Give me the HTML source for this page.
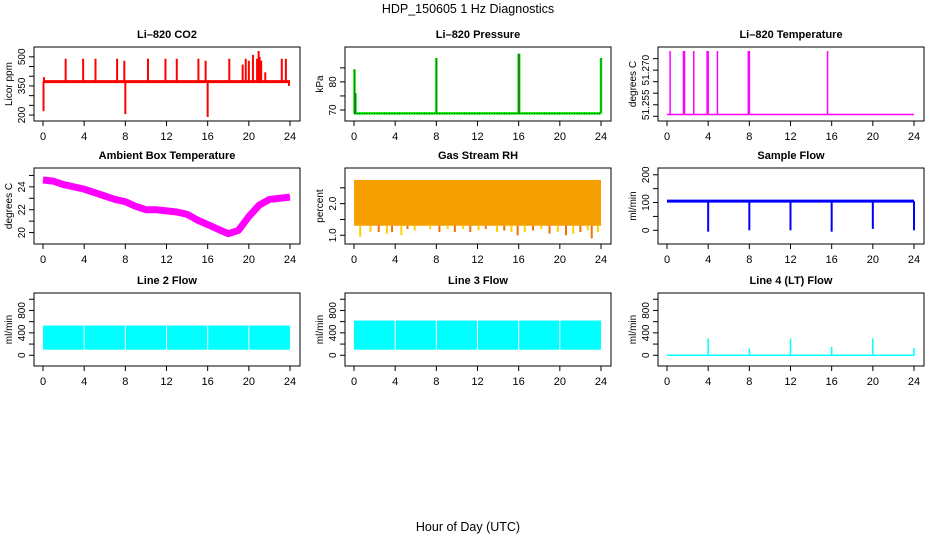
<!DOCTYPE html>
<html><head><meta charset="utf-8"><style>
body{margin:0;background:#fff;}
svg{display:block;font-family:"Liberation Sans",sans-serif;}
</style></head><body>
<svg id="root" width="936" height="540" viewBox="0 0 936 540">
<text x="468" y="13" text-anchor="middle" font-size="12.5">HDP_150605  1 Hz Diagnostics</text>
<text x="468" y="531" text-anchor="middle" font-size="12.5">Hour of Day (UTC)</text>
</svg>
<script>
// ---- data ----
const hourTicks = [0,4,8,12,16,20,24];
const co2Base = 372;
const co2SpikeHours = [0.05,0.1,2.2,3.9,5.1,7.2,7.9,8.0,10.2,11.9,13.0,15.1,15.8,16.0,18.1,19.4,19.7,20.0,20.4,20.8,20.95,21.05,21.2,21.6,23.2,23.6,23.9];
const co2SpikeValues = [220,395,490,490,490,490,480,205,490,490,490,490,480,190,490,460,490,480,510,490,530,500,480,420,490,490,350];
const presBase = 68.8;
const presSpikeHours = [0.05,0.15,8.0,16.0,16.05,24.0];
const presSpikeValues = [84.5,76,88.5,90,90,88.5];
const tempBase = 51.2508;
const tempSpikeHours = [0.3,1.6,1.7,2.6,3.9,4.0,4.9,7.9,8.0,15.6];
const ambHours = [0,1,2,3,4,5,6,7,8,9,10,11,12,13,14,15,16,17,18,19,20,21,22,23,24];
const ambTemp = [24.6,24.5,24.2,24.0,23.8,23.5,23.2,22.9,22.7,22.3,22.0,22.0,21.9,21.8,21.6,21.1,20.7,20.3,19.9,20.2,21.4,22.4,22.9,23.0,23.1];
const rhHigh = 2.75, rhLow = 1.3;
const rhDipHours = [0.6,1.0,1.6,2.4,3.2,3.7,4.6,5.2,5.9,6.6,7.4,8.3,9.1,9.8,10.6,11.3,12.1,12.8,13.9,14.6,15.3,15.9,16.6,17.4,18.2,19.0,19.8,20.6,21.3,22.0,22.7,23.1,23.7];
const rhDipValues = [0.95,1.3,1.1,1.1,1.05,1.1,1.0,1.2,1.15,1.3,1.2,1.1,1.2,1.1,1.2,1.1,1.15,1.2,1.1,1.15,1.1,1.0,1.1,1.15,1.2,1.05,1.1,1.0,1.05,1.1,1.15,0.9,1.1];
const flowBase = 105;
const flowDropHours = [4,8,12,16,20,24];
const flowDropValues = [-5,0,0,-5,5,0];
const line2Low = 100, line2High = 530;
const line3Low = 100, line3High = 620;
const line4Base = 0;
const line4SpikeHours = [4,8,12,16,20,24];
const line4SpikeValues = [300,120,300,150,300,130];

// ---- layout ----
const NS = "http://www.w3.org/2000/svg";
const root = document.getElementById('root');
function mk(tag, attrs, parent){
  const e = document.createElementNS(NS, tag);
  for (const k in attrs) e.setAttribute(k, attrs[k]);
  (parent||root).appendChild(e); return e;
}
function panel(name, title, ylab, bx, by, bh, ymin, ymax, yticks, ylabels){
  const g = mk('g', {});
  
  
  const bw = 266;
  const x = h => bx + 9 + h * (247/24);
  const y = v => by + bh - 4 - (v - ymin) / (ymax - ymin) * (bh - 8);
  const t = mk('text', {x: bx+bw/2, y: by-9, 'text-anchor':'middle', 'font-size':'11', 'font-weight':'bold'}, g);
  t.textContent = title;
  
  
  const plot = mk('g', {}, g);
  
  
  const box = mk('rect', {x:bx, y:by, width:bw, height:bh, fill:'none', stroke:'#000', 'stroke-width':1}, g);
  
  
  hourTicks.forEach(h => {
    mk('line', {x1:x(h), x2:x(h), y1:by+bh, y2:by+bh+5, stroke:'#000'}, g);
    const l = mk('text', {x:x(h), y:by+bh+19, 'text-anchor':'middle', 'font-size':'11'}, g);
    l.textContent = h;
    
    
  });
  yticks.forEach((v,i) => {
    const yy = y(v);
    mk('line', {x1:bx-5, x2:bx, y1:yy, y2:yy, stroke:'#000'}, g);
    if (ylabels[i]) {
      const l = mk('text', {x:bx-9, y:yy, 'text-anchor':'middle', 'font-size':'10', transform:`rotate(-90 ${bx-9} ${yy})`}, g);
      l.textContent = ylabels[i];
      
      
    }
  });
  const yl = mk('text', {x:bx-22, y:by+bh/2, 'text-anchor':'middle', 'font-size':'10', transform:`rotate(-90 ${bx-22} ${by+bh/2})`}, g);
  yl.textContent = ylab;
  
  
  return {x, y, plot};
}
function vline(p, h, v1, v2, color, w){
  const l = mk('line', {x1:p.x(h), x2:p.x(h), y1:p.y(v1), y2:p.y(v2), stroke:color, 'stroke-width':w||1.3}, p.plot);
  
  
}
function hline(p, v, color, w, dash){
  const l = mk('line', {x1:p.x(0), x2:p.x(24), y1:p.y(v), y2:p.y(v), stroke:color, 'stroke-width':w||1.5}, p.plot);
  if (dash) l.setAttribute('stroke-dasharray', dash);
  
  
}
const C = [34,345,658], R = [[47,74],[168,76],[293,73]];

// CO2
let p = panel('co2-panel','Li\u2013820 CO2','Licor ppm',C[0],R[0][0],R[0][1],190,530,[200,250,300,350,400,450,500],['200','','','350','','','500']);
hline(p, co2Base, '#f00', 3);
co2SpikeHours.forEach((h,i)=>vline(p,h,co2Base,co2SpikeValues[i],'#f00',2));

// Pressure
p = panel('pressure-panel','Li\u2013820 Pressure','kPa',C[1],R[0][0],R[0][1],67.5,91,[70,75,80,85],['70','','80','']);
hline(p, presBase, '#0e0', 2.5);
presSpikeHours.forEach((h,i)=>vline(p,h,presBase,presSpikeValues[i],'#0e0',2.5));
hline(p, presBase, '#000', 0.7, '1,1.5');
presSpikeHours.forEach((h,i)=>vline(p,h,presBase,presSpikeValues[i],'#333',0.6));

// Li temperature
p = panel('licor-temperature-panel','Li\u2013820 Temperature','degrees C',C[2],R[0][0],R[0][1],51.2497,51.2783,[51.25,51.255,51.26,51.265,51.27,51.275],['','51.255','','','51.270','']);
hline(p, tempBase, '#f0f', 1.5);
tempSpikeHours.forEach(h=>vline(p,h,tempBase,51.2783,'#f0f',1.5));

// Ambient
p = panel('ambient-temperature-panel','Ambient Box Temperature','degrees C',C[0],R[1][0],R[1][1],19.35,25.3,[20,21,22,23,24,25],['20','','22','','24','']);
{
  const pl = mk('polyline', {points: ambHours.map((h,i)=>p.x(h)+','+p.y(ambTemp[i])).join(' '), fill:'none', stroke:'#f0f', 'stroke-width':7, 'stroke-linejoin':'round'}, p.plot);
  
  
}

// RH
p = panel('gas-stream-rh-panel','Gas Stream RH','percent',C[1],R[1][0],R[1][1],0.85,3.0,[1.0,1.5,2.0,2.5],['1.0','','2.0','']);
{
  const r = mk('rect', {x:p.x(0), y:p.y(rhHigh), width:p.x(24)-p.x(0), height:p.y(rhLow)-p.y(rhHigh), fill:'#f5a000'}, p.plot);
  
  
  rhDipHours.forEach((h,i)=>vline(p,h,rhLow,rhDipValues[i],i%2?'#f07000':'#ffd000',2));
}

// Sample flow
p = panel('sample-flow-panel','Sample Flow','ml/min',C[2],R[1][0],R[1][1],-35,210,[0,50,100,150,200],['0','','100','','200']);
hline(p, flowBase, '#00f', 3);
flowDropHours.forEach((h,i)=>vline(p,h,flowBase,flowDropValues[i],'#00f',2));

// Line 2
p = panel('line2-flow-panel','Line 2 Flow','ml/min',C[0],R[2][0],R[2][1],-120,1040,[0,200,400,600,800,1000],['0','','400','','800','']);
{
  const r = mk('rect', {x:p.x(0), y:p.y(line2High), width:p.x(24)-p.x(0), height:p.y(line2Low)-p.y(line2High), fill:'#0ff'}, p.plot);
  
  
  [4,8,12,16,20].forEach(h=>vline(p,h,line2Low,line2High,'#fff',1));
}
// Line 3
p = panel('line3-flow-panel','Line 3 Flow','ml/min',C[1],R[2][0],R[2][1],-120,1040,[0,200,400,600,800,1000],['0','','400','','800','']);
{
  const r = mk('rect', {x:p.x(0), y:p.y(line3High), width:p.x(24)-p.x(0), height:p.y(line3Low)-p.y(line3High), fill:'#0ff'}, p.plot);
  
  
  [4,8,12,16,20].forEach(h=>vline(p,h,line3Low,line3High,'#fff',1));
}
// Line 4
p = panel('line4-flow-panel','Line 4 (LT) Flow','ml/min',C[2],R[2][0],R[2][1],-120,1040,[0,200,400,600,800,1000],['0','','400','','800','']);
hline(p, line4Base, '#0ff', 1.5);
line4SpikeHours.forEach((h,i)=>vline(p,h,line4Base,line4SpikeValues[i],'#0ff',1.5));
</script>
</body></html>
